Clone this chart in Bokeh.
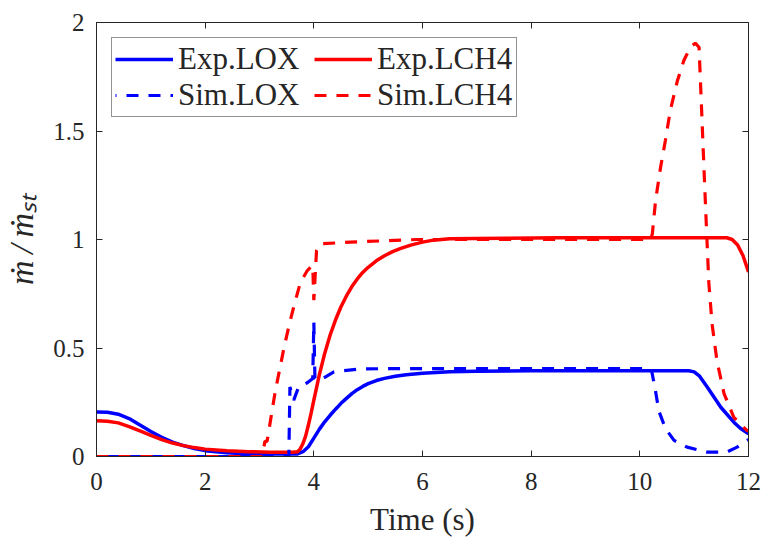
from bokeh.embed import file_html
from bokeh.models import FixedTicker, Legend, LegendItem, LinearAxis, Range1d
from bokeh.plotting import figure
from bokeh.resources import INLINE

# Normalised mass flow (m_dot / m_dot_st) of the two propellant lines
exp_lox_t = [0, 0.2, 0.4, 0.6, 0.8, 1.0, 1.2, 1.4, 1.6, 1.8, 2.0, 2.4, 2.8, 3.2, 3.6,
             3.7, 3.8, 3.9, 4.0, 4.1, 4.2, 4.3, 4.4, 4.5, 4.6, 4.7, 4.8, 4.9, 5.0,
             5.15, 5.3, 5.5, 5.7, 6.0, 6.5, 7.0, 8.0, 9.0, 10.0, 10.9, 11.0, 11.1,
             11.24, 11.49, 11.73, 11.85, 12.0]
exp_lox_y = [0.205, 0.204, 0.195, 0.175, 0.145, 0.115, 0.088, 0.066, 0.05, 0.037, 0.027,
             0.017, 0.012, 0.011, 0.011, 0.012, 0.022, 0.045, 0.085, 0.125, 0.16, 0.19,
             0.218, 0.245, 0.268, 0.29, 0.308, 0.323, 0.336, 0.35, 0.36, 0.37, 0.377,
             0.384, 0.39, 0.393, 0.395, 0.395, 0.395, 0.395, 0.39, 0.37, 0.32, 0.227,
             0.158, 0.13, 0.105]

exp_ch4_t = [0, 0.2, 0.4, 0.6, 0.8, 1.0, 1.2, 1.4, 1.6, 1.8, 2.0, 2.4, 2.8, 3.2, 3.6,
             3.7, 3.75, 3.8, 3.85, 3.9, 3.95, 4.0, 4.1, 4.2, 4.3, 4.4, 4.5, 4.6, 4.7,
             4.8, 4.9, 5.0, 5.15, 5.3, 5.45, 5.6, 5.8, 6.0, 6.2, 6.5, 7.5, 8.5, 9.5,
             10.5, 11.6, 11.7, 11.8, 11.9, 12.0]
exp_ch4_y = [0.165, 0.162, 0.155, 0.138, 0.118, 0.097, 0.078, 0.062, 0.05, 0.041, 0.034,
             0.026, 0.022, 0.02, 0.02, 0.022, 0.035, 0.06, 0.095, 0.145, 0.2, 0.26,
             0.375, 0.475, 0.56, 0.63, 0.69, 0.74, 0.783, 0.818, 0.848, 0.872, 0.902,
             0.925, 0.944, 0.959, 0.975, 0.988, 0.997, 1.003, 1.006, 1.008, 1.008,
             1.008, 1.008, 1.0, 0.975, 0.925, 0.85]

sim_lox_t = [0, 3.54, 3.56, 3.63, 3.72, 3.88, 3.98, 4.0, 4.02, 4.1, 4.37, 4.86, 5.6,
             10.21, 10.29, 10.35, 10.47, 10.63, 10.87, 11.24, 11.6, 11.79, 11.97, 12.0]
sim_lox_y = [0, 0, 0.32, 0.26, 0.32, 0.34, 0.36, 0.62, 0.36, 0.35, 0.39, 0.404, 0.405,
             0.405, 0.30, 0.21, 0.13, 0.074, 0.043, 0.02, 0.02, 0.043, 0.074, 0.078]

sim_ch4_t = [0, 3.05, 3.1, 3.14, 3.29, 3.45, 3.54, 3.63, 3.75, 3.88, 3.95, 3.98, 4.0,
             4.05, 4.12, 4.67, 5.9, 10.2, 10.23, 10.29, 10.38, 10.47, 10.56, 10.69,
             10.81, 10.93, 11.02, 11.09, 11.13, 11.18, 11.23, 11.27, 11.33, 11.42,
             11.55, 11.73, 11.97, 12.0]
sim_ch4_y = [0, 0, 0.07, 0.07, 0.30, 0.50, 0.60, 0.69, 0.80, 0.857, 0.875, 0.88, 0.72,
             0.95, 0.98, 0.988, 1.0, 1.0, 1.026, 1.18, 1.33, 1.456, 1.594, 1.73, 1.825,
             1.886, 1.905, 1.886, 1.64, 1.33, 1.03, 0.80, 0.61, 0.44, 0.29, 0.18, 0.12,
             0.118]

series_labels = ["Exp.LOX", "Sim.LOX", "Exp.LCH4", "Sim.LCH4"]

x_ticks = [0, 2, 4, 6, 8, 10, 12]
y_ticks = [0, 0.5, 1, 1.5, 2]
y_tick_labels = ["0", "0.5", "1", "1.5", "2"]

x_title = "Time (s)"
y_title = "ṁ\u2009/\u2009ṁₛₜ"

BLUE = "#0000ff"
RED = "#ff0000"
INK = "#262626"
SERIF = "Liberation Serif"
DASH = "12 10"

p = figure(width=780, height=539, output_backend="svg", toolbar_location=None,
           x_range=Range1d(0, 12), y_range=Range1d(0, 2),
           min_border_left=96, min_border_right=32, min_border_top=22,
           min_border_bottom=83)
p.xgrid.visible = False
p.ygrid.visible = False
p.outline_line_color = INK
p.outline_line_width = 1
p.background_fill_color = "white"
p.border_fill_color = "white"

xax = p.below[0]
yax = p.left[0]
xax.ticker = FixedTicker(ticks=x_ticks)
yax.ticker = FixedTicker(ticks=y_ticks)
yax.major_label_overrides = dict(zip(y_ticks, y_tick_labels))

for ax in (xax, yax):
    ax.major_tick_in = 6
    ax.major_tick_out = 0
    ax.minor_tick_line_color = None
    ax.axis_line_color = INK
    ax.major_tick_line_color = INK
    ax.major_label_text_font = SERIF
    ax.major_label_text_font_size = "25px"
    ax.major_label_text_color = INK
    ax.axis_label_text_font = SERIF
    ax.axis_label_text_color = INK
xax.major_label_standoff = 16
yax.major_label_standoff = 12

xax.axis_label = x_title
xax.axis_label_text_font_size = "31px"
xax.axis_label_text_font_style = "normal"
xax.axis_label_standoff = 9

yax.axis_label = y_title
yax.axis_label_text_font_size = "34px"
yax.axis_label_text_font_style = "italic"
yax.axis_label_standoff = 10

# Tick marks on the top and right edges of the box, labels not drawn
for loc, ticks in (("above", x_ticks), ("right", y_ticks)):
    ax = LinearAxis(ticker=FixedTicker(ticks=ticks), major_tick_in=6, major_tick_out=0,
                    minor_tick_line_color=None, axis_line_color=INK,
                    major_tick_line_color=INK, major_label_text_color=None,
                    major_label_text_font_size="1px", major_label_standoff=0)
    p.add_layout(ax, loc)

r_exp_lox = p.line(exp_lox_t, exp_lox_y, line_color=BLUE, line_width=3.5)
r_exp_ch4 = p.line(exp_ch4_t, exp_ch4_y, line_color=RED, line_width=3.5)
r_sim_lox = p.line(sim_lox_t, sim_lox_y, line_color=BLUE, line_width=3.2,
                   line_dash=DASH, line_dash_offset=11)
r_sim_ch4 = p.line(sim_ch4_t, sim_ch4_y, line_color=RED, line_width=3.2,
                   line_dash=DASH)

legend = Legend(
    items=[LegendItem(label=lab, renderers=[r])
           for lab, r in zip(series_labels, [r_exp_lox, r_sim_lox, r_exp_ch4, r_sim_ch4])],
    location="top_left", ncols=2, margin=15, padding=3, spacing=-1,
    glyph_width=58, glyph_height=28, label_standoff=5, label_width=136,
    label_text_font=SERIF, label_text_font_size="31px", label_text_color=INK,
    border_line_color=INK, border_line_width=1, background_fill_color="white",
    background_fill_alpha=1.0,
)
p.add_layout(legend)

open("out.html", "w").write(file_html(p, INLINE))
